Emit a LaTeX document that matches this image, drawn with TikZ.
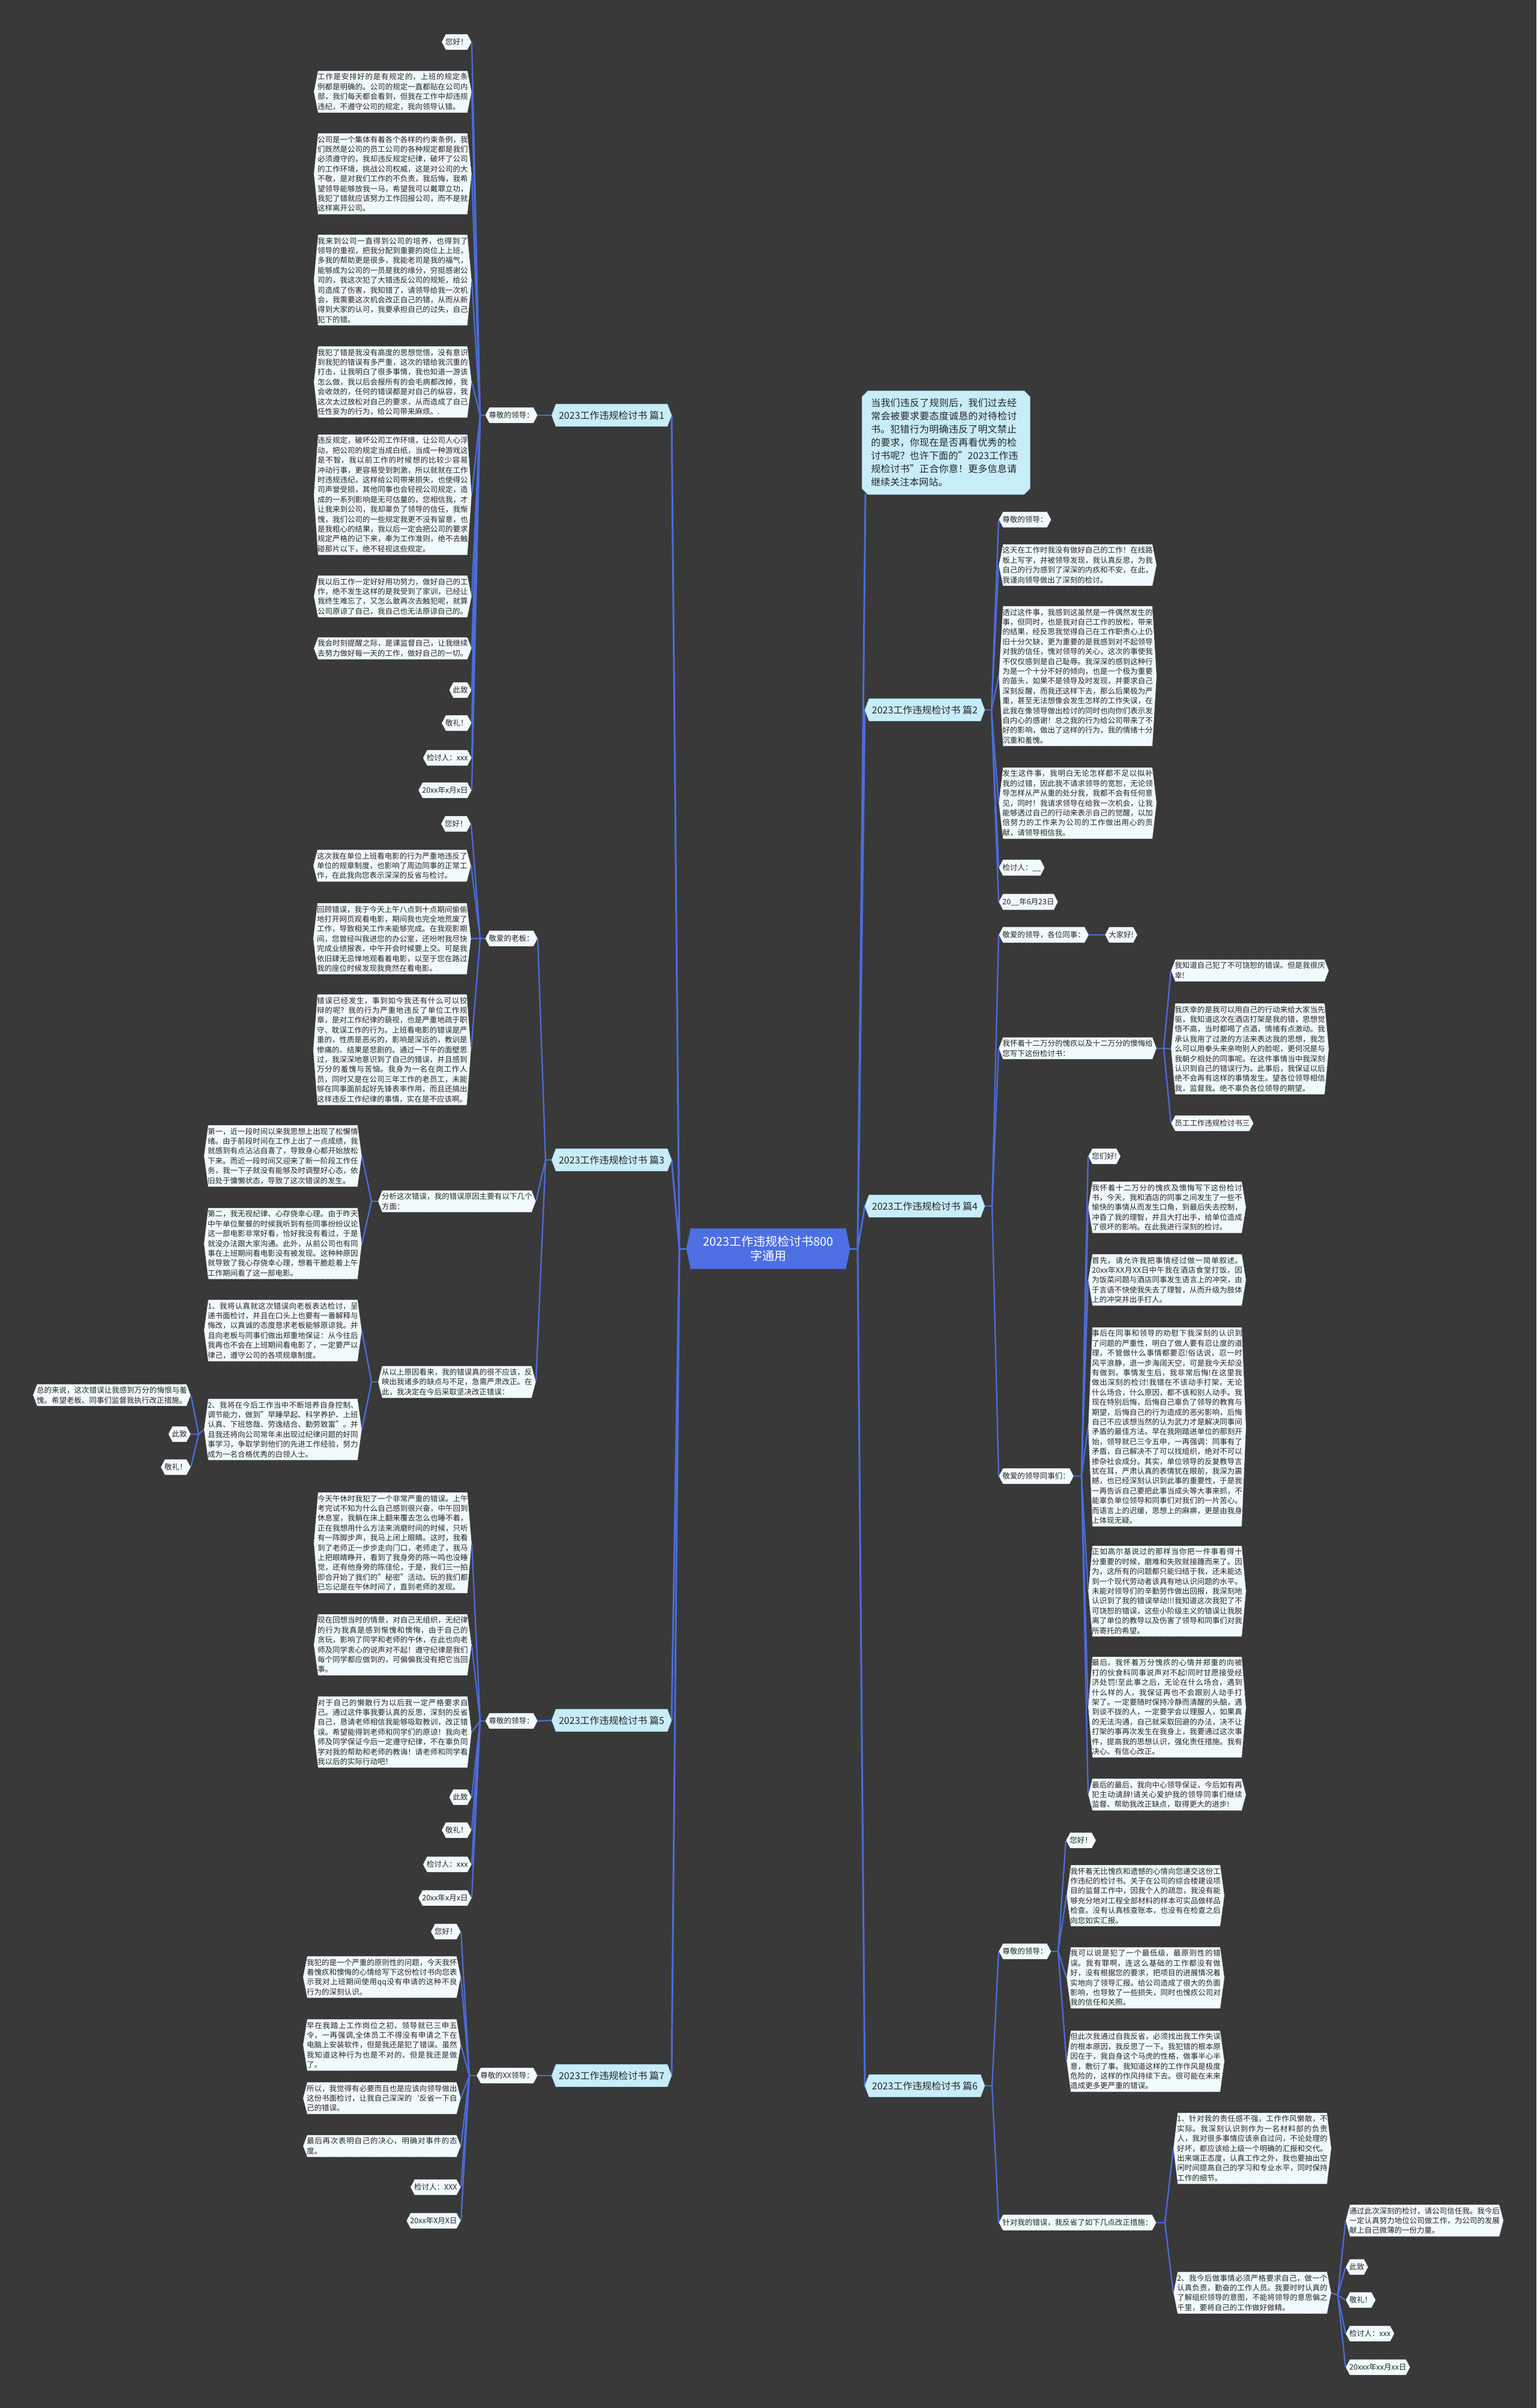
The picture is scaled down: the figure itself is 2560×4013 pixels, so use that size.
\documentclass[tikz,border=0pt]{standalone}
\usepackage{fontspec}
\setmainfont{Noto Sans CJK SC}
\usetikzlibrary{shapes.misc,backgrounds}
\XeTeXlinebreaklocale "zh"
\XeTeXlinebreakskip=0pt plus 1pt
\definecolor{bgc}{HTML}{393939}
\definecolor{leaf}{HTML}{F1FAFD}
\definecolor{edgec}{HTML}{202020}
\definecolor{brfill}{HTML}{C8EDF9}
\definecolor{brdraw}{HTML}{9CCFE3}
\definecolor{rootc}{HTML}{4D6FE3}
\definecolor{linec}{HTML}{4C6CD9}
\definecolor{txt}{HTML}{262626}
\makeatletter
\newdimen\hexXa \newdimen\hexXb \newdimen\hexYa \newdimen\hexYb \newdimen\hexYc \newdimen\hexD
\hexD=7pt
\pgfdeclareshape{hexa}{%
  \inheritsavedanchors[from=rectangle]%
  \inheritanchorborder[from=rectangle]%
  \inheritanchor[from=rectangle]{center}%
  \inheritanchor[from=rectangle]{north}%
  \inheritanchor[from=rectangle]{south}%
  \inheritanchor[from=rectangle]{east}%
  \inheritanchor[from=rectangle]{west}%
  \inheritanchor[from=rectangle]{north east}%
  \inheritanchor[from=rectangle]{north west}%
  \inheritanchor[from=rectangle]{south east}%
  \inheritanchor[from=rectangle]{south west}%
  \inheritanchor[from=rectangle]{mid}%
  \inheritanchor[from=rectangle]{base}%
  \backgroundpath{%
    \southwest \hexXa=\pgf@x \hexYa=\pgf@y
    \northeast \hexXb=\pgf@x \hexYb=\pgf@y
    \hexYc=\hexYa \advance\hexYc by \hexYb \divide\hexYc by 2
    \pgfpathmoveto{\pgfqpoint{\hexXa}{\hexYc}}%
    \pgfpathlineto{\pgfpoint{\hexXa+\hexD}{\hexYb}}%
    \pgfpathlineto{\pgfpoint{\hexXb-\hexD}{\hexYb}}%
    \pgfpathlineto{\pgfqpoint{\hexXb}{\hexYc}}%
    \pgfpathlineto{\pgfpoint{\hexXb-\hexD}{\hexYa}}%
    \pgfpathlineto{\pgfpoint{\hexXa+\hexD}{\hexYa}}%
    \pgfpathclose
  }%
}
\makeatother
\tikzset{
  basebox/.style={shape=hexa, text=txt, font=\fontsize{12.5pt}{16.4pt}\selectfont, inner xsep=6pt},
  para/.style={basebox, fill=leaf, draw=edgec, densely dotted, line width=0.8pt, inner ysep=4pt, text width=250.5pt, align=justify},
  lab/.style={basebox, fill=leaf, draw=edgec, densely dotted, line width=0.8pt, inner ysep=7pt},
  branch/.style={shape=hexa, fill=brfill, draw=brdraw, line width=0.8pt, text=txt, font=\fontsize{16pt}{19pt}\selectfont, minimum width=199pt, minimum height=36pt, inner xsep=8pt},
  rootbox/.style={shape=hexa, fill=rootc, draw=rootc, text=white, font=\fontsize{20pt}{24pt}\selectfont, align=center, minimum width=272pt, minimum height=67pt},
  introbox/.style={chamfered rectangle, chamfered rectangle xsep=5pt, chamfered rectangle ysep=5pt, fill=brfill, draw=brdraw, line width=0.8pt, text=txt, font=\fontsize{16pt}{22pt}\selectfont, text width=250pt, align=left, inner xsep=10pt, inner ysep=8pt},
  conn/.style={draw=linec, line width=2.3pt},
  trunk/.style={draw=linec, line width=3pt}
}
\begin{document}
\begin{tikzpicture}[x=1pt,y=-1pt]
\useasboundingbox (0,0) rectangle (2560,4013);
% ---------------- root ----------------
\node[rootbox] (root) at (1280,2081) {2023工作违规检讨书800\\字通用};
\coordinate (rJL) at (1132,2081);
\coordinate (rJR) at (1429,2081);
% ---------------- branches ----------------
\node[branch, anchor=east] (b1) at (1119,692) {2023工作违规检讨书 篇1};
\node[branch, anchor=east] (b3) at (1119,1933) {2023工作违规检讨书 篇3};
\node[branch, anchor=east] (b5) at (1119,2867) {2023工作违规检讨书 篇5};
\node[branch, anchor=east] (b7) at (1119,3459) {2023工作违规检讨书 篇7};
\node[branch, anchor=west] (b2) at (1441,1183) {2023工作违规检讨书 篇2};
\node[branch, anchor=west] (b4) at (1441,2010) {2023工作违规检讨书 篇4};
\node[branch, anchor=west] (b6) at (1441,3476) {2023工作违规检讨书 篇6};
\node[introbox, anchor=north west] (intro) at (1441,656) {当我们违反了规则后，我们过去经常会被要求要态度诚恳的对待检讨书。犯错行为明确违反了明文禁止的要求，你现在是否再看优秀的检讨书呢？也许下面的"2023工作违规检讨书"正合你意！更多信息请继续关注本网站。};
% ---------------- 篇1 ----------------
\node[lab, anchor=east] (aL) at (896,692) {尊敬的领导：};
\coordinate (aJ) at (800,692);
\node[lab, anchor=east] (a0) at (786,70) {您好！};
\node[para, anchor=north east] (a1) at (786,118) {工作是安排好的是有规定的，上班的规定条例都是明确的。公司的规定一直都贴在公司内部，我们每天都会看到，但我在工作中却违规违纪，不遵守公司的规定，我向领导认错。};
\node[para, anchor=north east] (a2) at (786,222) {公司是一个集体有着各个各样的约束条例，我们既然是公司的员工公司的各种规定都是我们必须遵守的，我却违反规定纪律，破坏了公司的工作环境，挑战公司权威，这是对公司的大不敬，是对我们工作的不负责，我后悔，我希望领导能够放我一马，希望我可以戴罪立功，我犯了错就应该努力工作回报公司，而不是就这样离开公司。};
\node[para, anchor=north east] (a3) at (786,391) {我来到公司一直得到公司的培养，也得到了领导的重视，把我分配到重要的岗位上上班，多我的帮助更是很多，我能老司是我的福气，能够成为公司的一员是我的缘分，穷挺感谢公司的，我这次犯了大错违反公司的规矩，给公司造成了伤害，我知错了，请领导给我一次机会，我需要这次机会改正自己的错，从而从新得到大家的认可，我要承担自己的过失，自己犯下的错。};
\node[para, anchor=north east] (a4) at (786,577) {我犯了错是我没有高度的思想觉悟，没有意识到我犯的错误有多严重，这次的错给我沉重的打击，让我明白了很多事情，我也知道一游该怎么做，我以后会报所有的会毛病都改掉，我会收敛的，任何的错误都是对自己的纵容，我这次太过放松对自己的要求，从而造成了自己任性妄为的行为，给公司带来麻烦。.};
\node[para, anchor=north east] (a5) at (786,724) {违反规定，破坏公司工作环境，让公司人心浮动，把公司的规定当成白纸，当成一种游戏这是不智，我以前工作的时候想的比较少容易冲动行事，更容易受到刺激，所以就就在工作时违规违纪，这样给公司带来损失，也使得公司声誉受损，其他同事也会轻视公司规定，造成的一系列影响是无可估量的，您相信我，才让我来到公司，我却辜负了领导的信任，我惭愧，我们公司的一些规定我更不没有留意，也是我粗心的结果，我以后一定会把公司的要求规定严格的记下来，奉为工作准则，绝不去触碰那片以下，绝不轻视这些规定。};
\node[para, anchor=north east] (a6) at (786,959) {我以后工作一定好好用功努力，做好自己的工作，绝不发生这样的是我受到了家训，已经让我终生难忘了，又怎么敢再次去触犯呢，就算公司原谅了自己，我自己也无法原谅自己的。};
\node[para, anchor=north east] (a7) at (786,1062) {我会时刻提醒之际，是课监督自己，让我继续去努力做好每一天的工作，做好自己的一切。};
\node[lab, anchor=east] (a8) at (786,1150) {此致};
\node[lab, anchor=east] (a9) at (786,1205) {敬礼！};
\node[lab, anchor=east] (a10) at (786,1263) {检讨人：xxx};
\node[lab, anchor=east] (a11) at (786,1317) {20xx年x月x日};
% ---------------- 篇3 ----------------
\coordinate (cJ0) at (909,1933);
\node[lab, anchor=east] (cL) at (896,1564) {敬爱的老板：};
\coordinate (cJ) at (800,1564);
\node[lab, anchor=east] (c0) at (785,1373) {您好！};
\node[para, anchor=north east] (c1) at (785,1416) {这次我在单位上班看电影的行为严重地违反了单位的规章制度，也影响了周边同事的正常工作，在此我向您表示深深的反省与检讨。};
\node[para, anchor=north east] (c2) at (785,1505) {回顾错误，我于今天上午八点到十点期间偷偷地打开网页观看电影，期间我也完全地荒废了工作，导致相关工作未能够完成。在我观影期间，您曾经叫我进您的办公室，还吩咐我尽快完成业绩报表，中午开会时候要上交。可是我依旧肆无忌惮地观看着电影，以至于您在路过我的座位时候发现我竟然在看电影。};
\node[para, anchor=north east] (c3) at (785,1657) {错误已经发生，事到如今我还有什么可以狡辩的呢？我的行为严重地违反了单位工作规章，是对工作纪律的藐视，也是严重地疏于职守、耽误工作的行为。上班看电影的错误是严重的，性质是恶劣的，影响是深远的，教训是惨痛的、结果是悲剧的。通过一下午的面壁思过，我深深地意识到了自己的错误，并且感到万分的羞愧与苦恼。我身为一名在岗工作人员，同时又是在公司三年工作的老员工，未能够在同事面前起好先锋表率作用，而且还搞出这样违反工作纪律的事情，实在是不应该啊。};
\node[para, anchor=east] (cA) at (893,2002) {分析这次错误，我的错误原因主要有以下几个方面：};
\coordinate (cAJ) at (619,2002);
\node[para, anchor=north east] (cA1) at (603,1875) {第一，近一段时间以来我思想上出现了松懈情绪。由于前段时间在工作上出了一点成绩，我就感到有点沾沾自喜了，导致身心都开始放松下来。而近一段时间又迎来了新一阶段工作任务，我一下子就没有能够及时调整好心态，依旧处于慵懒状态，导致了这次错误的发生。};
\node[para, anchor=north east] (cA2) at (603,2013) {第二，我无视纪律、心存侥幸心理。由于昨天中午单位聚餐的时候我听到有些同事纷纷议论这一部电影非常好看，恰好我没有看过，于是就没办法跟大家沟通。此外，从前公司也有同事在上班期间看电影没有被发现。这种种原因就导致了我心存侥幸心理，想着干脆趁着上午工作期间看了这一部电影。};
\node[para, anchor=east] (cB) at (893,2303) {从以上原因看来，我的错误真的很不应该，反映出我诸多的缺点与不足，急需严肃改正。在此，我决定在今后采取坚决改正错误：};
\coordinate (cBJ) at (619,2303);
\node[para, anchor=north east] (cB1) at (603,2166) {1、我将认真就这次错误向老板表达检讨，呈递书面检讨，并且在口头上也要有一番解释与悔改，以真诚的态度恳求老板能够原谅我。并且向老板与同事们做出郑重地保证：从今往后我再也不会在上班期间看电影了，一定要严以律己，遵守公司的各项规章制度。};
\node[para, anchor=north east] (cB2) at (603,2331) {2、我将在今后工作当中不断培养自身控制、调节能力，做到"早睡早起、科学养护、上班认真、下班悠哉、劳逸结合、勤劳致富"。并且我还将向公司常年未出现过纪律问题的好同事学习，争取学到他们的先进工作经验，努力成为一名合格优秀的白领人士。};
\coordinate (cB2J) at (331,2390);
\node[para, anchor=east] (cC1) at (318,2325) {总的来说，这次错误让我感到万分的悔恨与羞愧。希望老板、同事们监督我执行改正措施。};
\node[lab, anchor=east] (cC2) at (318,2390) {此致};
\node[lab, anchor=east] (cC3) at (318,2445) {敬礼！};
% ---------------- 篇5 ----------------
\node[lab, anchor=east] (eL) at (896,2868) {尊敬的领导：};
\coordinate (eJ) at (800,2868);
\node[para, anchor=north east] (e1) at (786,2487) {今天午休时我犯了一个非常严重的错误。上午考完试不知为什么自己感到很兴奋，中午回到休息室，我躺在床上翻来覆去怎么也睡不着，正在我想用什么方法来消磨时间的时候，只听有一阵脚步声，我马上闭上眼睛。这时，我看到了老师正一步步走向门口，老师走了，我马上把眼睛睁开，看到了我身旁的陈一鸣也没睡觉，还有他身旁的陈佳伦，于是，我们三一拍即合开始了我们的"秘密"活动。玩的我们都已忘记是在午休时间了，直到老师的发现。};
\node[para, anchor=north east] (e2) at (786,2690) {现在回想当时的情景，对自己无组织，无纪律的行为我真是感到惭愧和懊悔，由于自己的贪玩，影响了同学和老师的午休，在此也向老师及同学衷心的说声对不起！遵守纪律是我们每个同学都应做到的，可偏偏我没有把它当回事。};
\node[para, anchor=north east] (e3) at (786,2827) {对于自己的懒散行为以后我一定严格要求自己。通过这件事我要认真的反思，深刻的反省自己，恳请老师相信我能够吸取教训，改正错误。希望能得到老师和同学们的原谅！我向老师及同学保证今后一定遵守纪律，不在辜负同学对我的帮助和老师的教诲！请老师和同学看我以后的实际行动吧！};
\node[lab, anchor=east] (e4) at (786,2995) {此致};
\node[lab, anchor=east] (e5) at (786,3050) {敬礼！};
\node[lab, anchor=east] (e6) at (786,3107) {检讨人：xxx};
\node[lab, anchor=east] (e7) at (786,3163) {20xx年x月x日};
% ---------------- 篇7 ----------------
\node[lab, anchor=east] (gL) at (896,3459) {尊敬的XX领导：};
\coordinate (gJ) at (782,3459);
\node[lab, anchor=east] (g0) at (768,3219) {您好！};
\node[para, anchor=north east] (g1) at (768,3260) {我犯的是一个严重的原则性的问题，今天我怀着愧疚和懊悔的心情给写下这份检讨书向您表示我对上班期间使用qq没有申请的这种不良行为的深刻认识。};
\node[para, anchor=north east] (g2) at (768,3365) {早在我踏上工作岗位之初，领导就已三申五令，一再强调,全体员工不得没有申请之下在电脑上安装软件，但是我还是犯了错误。虽然我知道这种行为也是不对的，但是我还是做了。};
\node[para, anchor=north east] (g3) at (768,3470) {所以，我觉得有必要而且也是应该向领导做出这份书面检讨，让我自己深深的\symbol{96}反省一下自己的错误。};
\node[para, anchor=north east] (g4) at (768,3558) {最后再次表明自己的决心，明确对事件的态度。};
\node[lab, anchor=east] (g5) at (768,3645) {检讨人：XXX};
\node[lab, anchor=east] (g6) at (768,3701) {20xx年X月X日};
% ---------------- 篇2 ----------------
\coordinate (dJ) at (1652,1183);
\node[lab, anchor=west] (d0) at (1664,866) {尊敬的领导：};
\node[para, anchor=north west] (d1) at (1664,907) {这天在工作时我没有做好自己的工作！在线路板上写字，并被领导发现，我认真反思，为我自己的行为感到了深深的内疚和不安，在此，我谨向领导做出了深刻的检讨。};
\node[para, anchor=north west] (d2) at (1664,1010) {透过这件事，我感到这虽然是一件偶然发生的事，但同时，也是我对自己工作的放松，带来的结果，经反思我觉得自己在工作职责心上仍旧十分欠缺，更为重要的是我感到对不起领导对我的信任，愧对领导的关心，这次的事使我不仅仅感到是自己耻辱。我深深的感到这种行为是一个十分不好的倾向，也是一个极为重要的苗头，如果不是领导及时发现，并要求自己深刻反醒，而我还这样下去，那么后果极为严重，甚至无法想像会发生怎样的工作失误，在此我在像领导做出检讨的同时也向你们表示发自内心的感谢！总之我的行为给公司带来了不好的影响，做出了这样的行为，我的情绪十分沉重和羞愧。};
\node[para, anchor=north west] (d3) at (1664,1279) {发生这件事，我明白无论怎样都不足以拟补我的过错，因此我不请求领导的宽恕，无论领导怎样从严从重的处分我，我都不会有任何意见，同时！我请求领导在给我一次机会，让我能够透过自己的行动来表示自己的觉醒，以加倍努力的工作来为公司的工作做出用心的贡献，请领导相信我。};
\node[lab, anchor=west] (d4) at (1664,1446) {检讨人：\_\_};
\node[lab, anchor=west] (d5) at (1664,1503) {20\_\_年6月23日};
% ---------------- 篇4 ----------------
\coordinate (fJ) at (1653,2010);
\node[lab, anchor=west] (fA) at (1664,1558) {敬爱的领导，各位同事：};
\node[lab, anchor=west] (fA1) at (1841,1558) {大家好!};
\node[para, anchor=west] (fB) at (1664,1747) {我怀着十二万分的愧疚以及十二万分的懊悔给您写下这份检讨书：};
\coordinate (fBJ) at (1939,1747);
\node[para, anchor=north west] (fB1) at (1951,1599) {我知道自己犯了不可饶恕的错误。但是我很庆幸!};
\node[para, anchor=north west] (fB2) at (1951,1672) {我庆幸的是我可以用自己的行动来给大家当先驱，我知道这次在酒店打架是我的错，思想觉悟不高，当时都喝了点酒，情绪有点激动。我承认我用了过激的方法来表达我的思想，我怎么可以用拳头来亲吻别人的脸呢，更何况是与我朝夕相处的同事呢。在这件事情当中我深刻认识到自己的错误行为。此事后，我保证以后绝不会再有这样的事情发生。望各位领导相信我，监督我。绝不辜负各位领导的期望。};
\node[lab, anchor=west] (fB3) at (1951,1872) {员工工作违规检讨书三};
\node[lab, anchor=west] (fC) at (1664,2460) {敬爱的领导同事们：};
\coordinate (fCJ) at (1802,2460);
\node[lab, anchor=west] (fC0) at (1813,1927) {您们好!};
\node[para, anchor=north west] (fC1) at (1813,1969) {我怀着十二万分的愧疚及懊悔写下这份检讨书，今天，我和酒店的同事之间发生了一些不愉快的事情从而发生口角，到最后失去控制，冲昏了我的理智，并且大打出手，给单位造成了很坏的影响。在此我进行深刻的检讨。};
\node[para, anchor=north west] (fC2) at (1813,2090) {首先，请允许我把事情经过做一简单叙述。20xx年XX月XX日中午我在酒店食堂打饭，因为饭菜问题与酒店同事发生语言上的冲突，由于言语不快使我失去了理智，从而升级为肢体上的冲突并出手打人。};
\node[para, anchor=north west] (fC3) at (1813,2212) {事后在同事和领导的劝慰下我深刻的认识到了问题的严重性，明白了做人要有忍让度的道理，不管做什么事情都要忍!俗话说，忍一时风平浪静，退一步海阔天空，可是我今天却没有做到，事情发生后，我非常后悔!在这里我做出深刻的检讨!我错在不该动手打架，无论什么场合，什么原因，都不该和别人动手。我现在特别后悔，后悔自己辜负了领导的教育与期望，后悔自己的行为造成的恶劣影响，后悔自己不应该想当然的认为武力才是解决同事间矛盾的最佳方法。早在我刚踏进单位的那刻开始，领导就已三令五申，一再强调：同事有了矛盾，自己解决不了可以找组织，绝对不可以掺杂社会成分。其实，单位领导的反复教导言犹在耳，严肃认真的表情犹在眼前，我深为震撼，也已经深刻认识到此事的重要性，于是我一再告诉自己要把此事当成头等大事来抓，不能辜负单位领导和同事们对我们的一片苦心。而语言上的迟缓，思想上的麻痹，更是由我身上体现无疑。};
\node[para, anchor=north west] (fC4) at (1813,2576) {正如高尔基说过的那样当你把一件事看得十分重要的时候，磨难和失败就接踵而来了。因为，这所有的问题都只能归结于我，还未能达到一个现代劳动者该具有地认识问题的水平。未能对领导们的辛勤劳作做出回报，我深刻地认识到了我的错误举动!!!我知道这次我犯了不可饶恕的错误，这些小阶级主义的错误让我脱离了单位的教导以及伤害了领导和同事们对我所寄托的希望。};
\node[para, anchor=north west] (fC5) at (1813,2761) {最后，我怀着万分愧疚的心情并郑重的向被打的伙食科同事说声对不起!同时甘愿接受经济处罚!至此事之后，无论在什么场合，遇到什么样的人，我保证再也不会跟别人动手打架了。一定要随时保持冷静而清醒的头脑，遇到谈不拢的人，一定要学会以理服人，如果真的无法沟通，自己就采取回避的办法，决不让打架的事再次发生在我身上，我要通过这次事件，提高我的思想认识，强化责任措施。我有决心、有信心改正。};
\node[para, anchor=north west] (fC6) at (1813,2964) {最后的最后，我向中心领导保证，今后如有再犯主动请辞!请关心爱护我的领导同事们继续监督、帮助我改正缺点，取得更大的进步!};
% ---------------- 篇6 ----------------
\coordinate (hJ) at (1653,3476);
\node[lab, anchor=west] (hA) at (1664,3252) {尊敬的领导：};
\coordinate (hAJ) at (1763,3252);
\node[lab, anchor=west] (hA0) at (1776,3067) {您好！};
\node[para, anchor=north west] (hA1) at (1777,3108) {我怀着无比愧疚和遗憾的心情向您递交这份工作违纪的检讨书。关于在公司的综合楼建设项目的监督工作中，因我个人的疏忽，我没有能够充分地对工程全部材料的样本可实品做样品检查。没有认真核查账本，也没有在检查之后向您如实汇报。};
\node[para, anchor=north west] (hA2) at (1777,3245) {我可以说是犯了一个最低级，最原则性的错误。我有罪啊，连这么基础的工作都没有做好，没有根据您的要求，把项目的进展情况着实地向了领导汇报。给公司造成了很大的负面影响，也导致了一些损失，同时也愧疚公司对我的信任和关照。};
\node[para, anchor=north west] (hA3) at (1777,3384) {但此次我通过自我反省，必须找出我工作失误的根本原因，我反思了一下。我犯错的根本原因在于，我自身这个马虎的性格，做事半心半意，敷衍了事。我知道这样的工作作风是极度危险的，这样的作风持续下去。很可能在未来造成更多更严重的错误。};
\node[lab, anchor=west] (hB) at (1664,3704) {针对我的错误，我反省了如下几点改正措施：};
\coordinate (hBJ) at (1941,3704);
\node[para, anchor=north west] (hB1) at (1955,3521) {1、针对我的责任感不强，工作作风懒散，不实际。我深刻认识到作为一名材料部的负责人，我对很多事情应该亲自过问，不论处理的好坏，都应该给上级一个明确的汇报和交代。出来端正态度，认真工作之外，我也要抽出空闲时间提高自己的学习和专业水平，同时保持工作的细节。};
\node[para, anchor=north west] (hB2) at (1955,3786) {2、我今后做事情必须严格要求自己，做一个认真负责，勤奋的工作人员。我要时时认真的了解组织领导的意图，不能将领导的意思偏之千里，要将自己的工作做好做精。};
\coordinate (hB2J) at (2229,3825);
\node[para, anchor=north west] (hC1) at (2242,3674) {通过此次深刻的检讨，请公司信任我。我今后一定认真努力地位公司做工作，为公司的发展献上自己微薄的一份力量。};
\node[lab, anchor=west] (hC2) at (2242,3778) {此致};
\node[lab, anchor=west] (hC3) at (2242,3833) {敬礼！};
\node[lab, anchor=west] (hC4) at (2242,3889) {检讨人：xxx};
\node[lab, anchor=west] (hC5) at (2242,3945) {20xxx年xx月xx日};
% ---------------- connectors ----------------
\begin{scope}[on background layer]
\fill[bgc] (0,0) rectangle (2560,4013);
\draw[trunk] (root.west) -- (rJL);
\foreach \c in {b1,b3,b5,b7} \draw[trunk] (rJL) -- (\c.east);
\draw[trunk] (root.east) -- (rJR);
\foreach \c in {b2,b4,b6} \draw[trunk] (rJR) -- (\c.west);
\draw[trunk] (rJR) -- ([xshift=1pt,yshift=-3pt]intro.south west);
% 篇1
\draw[conn] (b1.west) -- (aL.east);
\draw[conn] (aL.west) -- (aJ);
\foreach \c in {a0,a1,a2,a3,a4,a5,a6,a7,a8,a9,a10,a11} \draw[conn] (aJ) -- (\c.east);
% 篇3
\draw[conn] (b3.west) -- (cJ0);
\foreach \c in {cL,cA,cB} \draw[conn] (cJ0) -- (\c.east);
\draw[conn] (cL.west) -- (cJ);
\foreach \c in {c0,c1,c2,c3} \draw[conn] (cJ) -- (\c.east);
\draw[conn] (cA.west) -- (cAJ);
\foreach \c in {cA1,cA2} \draw[conn] (cAJ) -- (\c.east);
\draw[conn] (cB.west) -- (cBJ);
\foreach \c in {cB1,cB2} \draw[conn] (cBJ) -- (\c.east);
\draw[conn] (cB2.west) -- (cB2J);
\foreach \c in {cC1,cC2,cC3} \draw[conn] (cB2J) -- (\c.east);
% 篇5
\draw[conn] (b5.west) -- (eL.east);
\draw[conn] (eL.west) -- (eJ);
\foreach \c in {e1,e2,e3,e4,e5,e6,e7} \draw[conn] (eJ) -- (\c.east);
% 篇7
\draw[conn] (b7.west) -- (gL.east);
\draw[conn] (gL.west) -- (gJ);
\foreach \c in {g0,g1,g2,g3,g4,g5,g6} \draw[conn] (gJ) -- (\c.east);
% 篇2
\draw[conn] (b2.east) -- (dJ);
\foreach \c in {d0,d1,d2,d3,d4,d5} \draw[conn] (dJ) -- (\c.west);
% 篇4
\draw[conn] (b4.east) -- (fJ);
\foreach \c in {fA,fB,fC} \draw[conn] (fJ) -- (\c.west);
\draw[conn] (fA.east) -- (fA1.west);
\draw[conn] (fB.east) -- (fBJ);
\foreach \c in {fB1,fB2,fB3} \draw[conn] (fBJ) -- (\c.west);
\draw[conn] (fC.east) -- (fCJ);
\foreach \c in {fC0,fC1,fC2,fC3,fC4,fC5,fC6} \draw[conn] (fCJ) -- (\c.west);
% 篇6
\draw[conn] (b6.east) -- (hJ);
\foreach \c in {hA,hB} \draw[conn] (hJ) -- (\c.west);
\draw[conn] (hA.east) -- (hAJ);
\foreach \c in {hA0,hA1,hA2,hA3} \draw[conn] (hAJ) -- (\c.west);
\draw[conn] (hB.east) -- (hBJ);
\foreach \c in {hB1,hB2} \draw[conn] (hBJ) -- (\c.west);
\draw[conn] (hB2.east) -- (hB2J);
\foreach \c in {hC1,hC2,hC3,hC4,hC5} \draw[conn] (hB2J) -- (\c.west);
\end{scope}
\end{tikzpicture}
\end{document}
